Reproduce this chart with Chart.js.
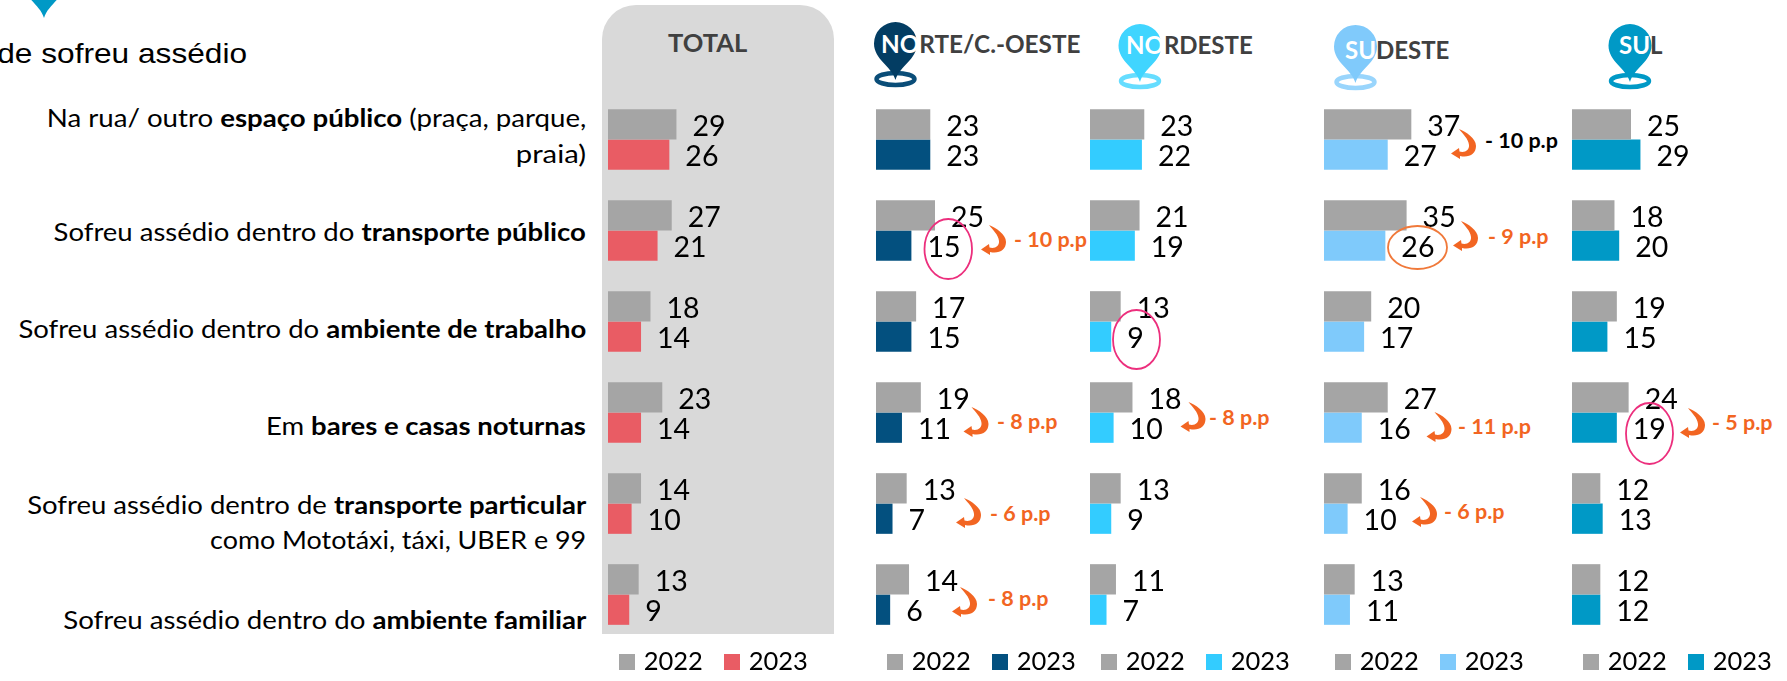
<!DOCTYPE html>
<html><head><meta charset="utf-8">
<script src="https://cdn.jsdelivr.net/npm/chart.js@4"></script>
<style>
html,body{margin:0;padding:0;background:#fff;overflow:hidden;width:1787px;height:681px}
#stage{position:relative;width:1787px;height:681px;overflow:hidden;font-family:Lato,sans-serif}
#panel{position:absolute;left:602px;top:5px;width:232px;height:629px;background:#D9D9D9;border-radius:34px 34px 0 0}
canvas{position:absolute}
.cat,.head,.pp{position:absolute;white-space:nowrap;line-height:1;transform:translateY(-50%)}
.cat{font-size:25px;color:#000;right:1201px;text-align:right;transform-origin:right center}
.cat b{font-weight:700}
.head{font-weight:700;font-size:24px;color:#404040}
.head i{font-style:normal;color:#fff}
.pp{font-weight:700;font-size:21.5px;color:#F26522}
svg{position:absolute;left:0;top:0;overflow:visible}
</style></head><body>
<div id="stage">
<div id="panel"></div>
<svg id="under" width="1787" height="681"></svg>
<div id="texts"></div>
<svg id="over" width="1787" height="681"></svg>
</div>
<script>
/* ---------- data ---------- */
const labelLines = [
  ["Na rua/ outro espaço público (praça, parque,", "praia)"],
  ["Sofreu assédio dentro do transporte público"],
  ["Sofreu assédio dentro do ambiente de trabalho"],
  ["Em bares e casas noturnas"],
  ["Sofreu assédio dentro de transporte particular", "como Mototáxi, táxi, UBER e 99"],
  ["Sofreu assédio dentro do ambiente familiar"]
];
const boldTerms = ["espaço público","transporte público","ambiente de trabalho","bares e casas noturnas","transporte particular","ambiente familiar"];
const categories = labelLines.map(l => l.join(" "));
const years = ["2022","2023"];

const total2022    = [29,27,18,23,14,13];
const total2023    = [26,21,14,14,10,9];
const norte2022    = [23,25,17,19,13,14];
const norte2023    = [23,15,15,11,7,6];
const nordeste2022 = [23,21,13,18,13,11];
const nordeste2023 = [22,19,9,10,9,7];
const sudeste2022  = [37,35,20,27,16,13];
const sudeste2023  = [27,26,17,16,10,11];
const sul2022      = [25,18,19,24,12,12];
const sul2023      = [29,20,15,19,13,12];

const chartTitleFragment = "de sofreu assédio";
const deltaLabels = ["- 10 p.p","- 10 p.p","- 9 p.p","- 8 p.p","- 8 p.p","- 11 p.p","- 5 p.p","- 6 p.p","- 6 p.p","- 8 p.p"];

/* ---------- layout & style ---------- */
const GREY = "#A5A5A5";
const panels = [
  {a:total2022,   b:total2023,   color:"#E95C64", left:608},
  {a:norte2022,   b:norte2023,   color:"#03507F", left:875.5},
  {a:nordeste2022,b:nordeste2023,color:"#33CCFF", left:1090},
  {a:sudeste2022, b:sudeste2023, color:"#7FCAFB", left:1324},
  {a:sul2022,     b:sul2023,     color:"#0099C6", left:1572}
];
const PANEL_W = 260, PLOT_TOP = 94, PLOT_H = 546, CANVAS_H = 587, PX_PER_UNIT = 2.36;
const FONT = "Lato, sans-serif";
const catLineY = [[117,153],[231],[328],[425],[504,539],[619]];
const catLineStretch = [[1.105,1.17],[1.1],[1.1],[1.1],[1.1,1.074],[1.105]];

const heads = [
  {t:"TOTAL",pre:"",x:668,y:43,size:25.5},
  {t:"RTE/C.-OESTE",pre:"NO",x:881,y:44,size:24.3},
  {t:"RDESTE",pre:"NO",x:1126,y:45},
  {t:"DESTE",pre:"SU",x:1345,y:50},
  {t:"L",pre:"SU",x:1619,y:45}
];
const pins = [
  {cx:44,top:-40,color:"#0099C6",ring:null},
  {cx:895.5,top:22,color:"#033D63",ring:"#0A4D78"},
  {cx:1140,top:24,color:"#40D5FF",ring:"#66DDFF"},
  {cx:1355.5,top:25,color:"#80CAFB",ring:"#99D5FC"},
  {cx:1630,top:24,color:"#0099C6",ring:"#0099C6"}
];
const arrowPos = [[1451,129],[981,225],[1453,221],[963.5,407],[1180.5,402],[1426.5,412],[1680,408],[956,498],[1412,497],[952,587]];
const deltaPos = [[1485,141,"#000"],[1014,240],[1488,237],[997,422],[1209,418],[1458,427],[1712,423],[990,514],[1444,512],[988,599]];
const ellipses = [
  [924.5,219,972,279,"#EC2F7D"],
  [1388,226,1447,269,"#F0793A"],
  [1113,310,1160,369,"#EC2F7D"],
  [1626,403,1673,464,"#EC2F7D"]
];

/* ---------- html/svg overlays ---------- */
const stage = document.getElementById("stage");
const texts = document.getElementById("texts");
function addText(cls, html, css){
  const d = document.createElement("div");
  d.className = cls; d.innerHTML = html; Object.assign(d.style, css); texts.appendChild(d); return d;
}
labelLines.forEach((lines,i)=>lines.forEach((ln,j)=>{
  addText("cat", ln.replace(boldTerms[i], "<b>"+boldTerms[i]+"</b>"), {top:catLineY[i][j]+"px",transform:`translateY(-50%) scaleX(${catLineStretch[i][j]})`});
}));
addText("cat", chartTitleFragment, {top:"54px",right:"1540px",fontFamily:"'Liberation Sans',sans-serif",fontSize:"28px",transform:"translateY(-50%) scaleX(1.13)"});
heads.forEach(h=>addText("head", (h.pre?"<i>"+h.pre+"</i>":"")+h.t, {left:h.x+"px",top:h.y+"px",fontSize:(h.size||24)+"px"}));
deltaLabels.forEach((t,i)=>{
  const p = deltaPos[i];
  addText("pp", t, {left:p[0]+"px",top:p[1]+"px",color:p[2]||"#F26522"});
});
const under = document.getElementById("under"), over = document.getElementById("over");
let u = "";
pins.forEach(p=>{
  const r=21.5, cy=p.top+r, tip=p.top+58, x=p.cx;
  if(p.ring) u += `<ellipse cx="${x}" cy="${tip-1}" rx="19" ry="6" fill="none" stroke="${p.ring}" stroke-width="4.5"/>`;
  u += `<path fill="${p.color}" d="M${x} ${tip}C${x-4} ${tip-14} ${x-r} ${cy+16} ${x-r} ${cy}A${r} ${r} 0 1 1 ${x+r} ${cy}C${x+r} ${cy+16} ${x+4} ${tip-14} ${x} ${tip}Z"/>`;
});
under.innerHTML = u;
let o = "";
ellipses.forEach(e=>{
  o += `<ellipse cx="${(e[0]+e[2])/2}" cy="${(e[1]+e[3])/2}" rx="${(e[2]-e[0])/2}" ry="${(e[3]-e[1])/2}" fill="none" stroke="${e[4]}" stroke-width="1.8"/>`;
});
arrowPos.forEach(a=>{
  o += `<path transform="translate(${a[0]} ${a[1]})" fill="#F26522" d="M8 0C15 3 25 9 25 17C25 25 18 29 9 27L9 30L0 24.5L8 19L8.5 22.5C14 24 18.500 21 18 16C17.500 10 12 5 8 0Z"/>`;
});
over.innerHTML = o;

/* ---------- charts ---------- */
function swatch(color){
  const s = document.createElement("canvas");
  s.width = 16; s.height = 16;
  const g = s.getContext("2d");
  g.fillStyle = color; g.fillRect(0,0,16,16);
  return s;
}
const valueLabels = {
  id:"valueLabels",
  afterDatasetsDraw(chart){
    const ctx = chart.ctx;
    ctx.save();
    ctx.font = "28.5px "+FONT; ctx.fillStyle="#000"; ctx.textAlign="left"; ctx.textBaseline="middle";
    chart.data.datasets.forEach((ds,i)=>{
      chart.getDatasetMeta(i).data.forEach((el,j)=>{
        ctx.fillText(String(ds.data[j]), el.x+16, el.y+2.5);
      });
    });
    ctx.restore();
  }
};
const legendFit = {
  id:"legendFit",
  beforeLayout(chart){
    const l = chart.legend;
    if(!l._fitWrapped){
      const fit = l.fit;
      l.fit = function(){ fit.call(this); this.height = CANVAS_H-PLOT_H; };
      l._fitWrapped = true;
    }
  },
  afterLayout(chart){
    const l = chart.legend;
    l.top -= 16; l.left -= 10;
  }
};
panels.forEach(p=>{
  const c = document.createElement("canvas");
  c.style.left = p.left+"px"; c.style.top = PLOT_TOP+"px";
  c.width = PANEL_W; c.height = CANVAS_H;
  c.style.width = PANEL_W+"px"; c.style.height = CANVAS_H+"px";
  stage.insertBefore(c, document.getElementById("over"));
  new Chart(c, {
    type:"bar",
    data:{labels:categories, datasets:[
      {label:years[0], data:p.a, backgroundColor:GREY, borderWidth:0},
      {label:years[1], data:p.b, backgroundColor:p.color, borderWidth:0}
    ]},
    options:{
      indexAxis:"y", responsive:false, animation:false,
      barPercentage:1, categoryPercentage:2/3,
      layout:{padding:0},
      scales:{
        x:{display:false,min:0,max:PANEL_W/PX_PER_UNIT},
        y:{display:false}
      },
      plugins:{
        tooltip:{enabled:false},
        legend:{display:true,position:"bottom",align:"start",
          labels:{usePointStyle:true,pointStyleWidth:8,boxHeight:16,padding:25,color:"#000",font:{family:FONT,size:25.5},
            generateLabels(chart){
              return chart.data.datasets.map((ds,i)=>({
                text:ds.label, datasetIndex:i, fontColor:"#000", lineWidth:0,
                fillStyle:ds.backgroundColor, strokeStyle:ds.backgroundColor,
                pointStyle:swatch(ds.backgroundColor), hidden:false
              }));
            }}}
      }
    },
    plugins:[valueLabels,legendFit]
  });
});
</script>
</body></html>
